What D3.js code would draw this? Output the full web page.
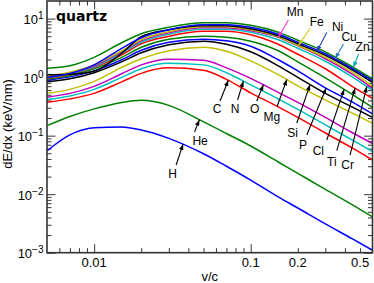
<!DOCTYPE html>
<html lang="en">
<head>
<meta charset="UTF-8">
<title>quartz - dE/dx vs v/c</title>
<script src="https://d3js.org/d3.v7.min.js"></script>
<style>
    body { margin: 0; background: #fff; }
    svg { display: block; font-family: "Liberation Sans", Arial, sans-serif; }
    .tick line { stroke: #333; stroke-width: 1; }
    .domain { display: none; }
    .curve { fill: none; stroke-width: 1.5; }
    .lbl { font-size: 12px; fill: #000; }
</style>
</head>
<body>
<svg id="chart" width="374" height="283"></svg>
<script>
// v/c values shared by every ion
const velocity = [0.005, 0.007, 0.01, 0.015, 0.02, 0.03, 0.05, 0.07, 0.1, 0.15, 0.2, 0.3, 0.45, 0.6];

// dE/dx (keV/nm)
const H  = [0.055, 0.103, 0.136, 0.141, 0.125, 0.090, 0.049, 0.030, 0.0174, 0.0090, 0.0058, 0.0031, 0.0017, 0.0011];
const He = [0.148, 0.213, 0.287, 0.370, 0.401, 0.329, 0.172, 0.109, 0.0666, 0.0355, 0.0227, 0.0121, 0.0065, 0.0041];
const C  = [0.373, 0.425, 0.528, 0.831, 1.16, 1.44, 1.31, 0.917, 0.538, 0.310, 0.205, 0.111, 0.0604, 0.0384];
const N  = [0.414, 0.478, 0.618, 0.992, 1.39, 1.72, 1.62, 1.19, 0.738, 0.425, 0.281, 0.153, 0.0828, 0.0536];
const O  = [0.455, 0.528, 0.696, 1.14, 1.62, 2.02, 1.94, 1.44, 0.954, 0.549, 0.370, 0.205, 0.111, 0.0735];
const Mg = [0.528, 0.618, 0.847, 1.47, 2.06, 2.82, 3.24, 2.77, 1.90, 1.10, 0.710, 0.409, 0.240, 0.162];
const Si = [0.831, 0.935, 1.19, 1.83, 2.61, 3.57, 4.10, 3.64, 2.71, 1.56, 0.992, 0.528, 0.304, 0.205];
const P  = [0.882, 1.01, 1.28, 1.98, 2.88, 3.94, 4.44, 4.18, 3.37, 1.98, 1.28, 0.656, 0.370, 0.235];
const Cl = [0.917, 1.07, 1.39, 2.18, 3.24, 4.44, 5.00, 4.80, 4.10, 2.82, 1.83, 0.973, 0.498, 0.304];
const Ti = [0.954, 1.12, 1.47, 2.41, 3.72, 5.00, 6.08, 6.08, 5.30, 3.64, 2.46, 1.39, 0.682, 0.434];
const Cr = [0.973, 1.14, 1.50, 2.56, 3.94, 5.41, 6.59, 6.59, 5.85, 4.35, 3.11, 1.87, 0.992, 0.594];
const Mn = [0.992, 1.16, 1.56, 2.71, 4.18, 5.74, 6.99, 6.99, 6.21, 4.80, 3.44, 2.06, 1.10, 0.643];
const Fe = [1.03, 1.21, 1.62, 2.82, 4.35, 5.97, 7.27, 7.27, 6.46, 4.90, 3.50, 2.18, 1.19, 0.696];
const Ni = [1.10, 1.12, 1.26, 2.56, 4.90, 6.46, 7.56, 7.56, 6.71, 5.10, 3.72, 2.36, 1.31, 0.815];
const Cu = [0.992, 1.16, 1.62, 3.11, 4.71, 6.46, 7.86, 7.86, 7.12, 5.41, 3.94, 2.51, 1.39, 0.875];
const Zn = [1.415, 1.562, 2.18, 3.87, 5.51, 7.12, 8.51, 8.51, 7.71, 5.85, 4.27, 2.71, 1.48, 0.935];

const ions = ["H", "He", "C", "N", "O", "Mg", "Si", "P", "Cl", "Ti", "Cr", "Mn", "Fe", "Ni", "Cu", "Zn"];
const ionSeries = [H, He, C, N, O, Mg, Si, P, Cl, Ti, Cr, Mn, Fe, Ni, Cu, Zn];
const ionColors = ["#0000ff", "#008000", "#ff0000", "#00bfbf", "#bf00bf", "#bfbf00", "#000000",
                   "#0000ff", "#008000", "#ff0000", "#00bfbf", "#bf00bf", "#bfbf00", "#000000",
                   "#0000ff", "#008000"];

// labels: text position, arrow tail (both in v/c, keV/nm) and the v/c where the arrow meets its curve
const labelV = [0.0317, 0.0475, 0.0610, 0.0795, 0.1062, 0.1364, 0.1852, 0.2162, 0.2707, 0.3298, 0.4159, 0.1922, 0.2644, 0.3591, 0.4252, 0.5188];
const labelE = [0.0221, 0.0810, 0.285, 0.285, 0.285, 0.211, 0.111, 0.0692, 0.0553, 0.0359, 0.0315, 13.1, 8.86, 7.28, 4.91, 3.31];
const tailV  = [0.0334, 0.0438, 0.0637, 0.0825, 0.1094, 0.1475, 0.197, 0.2282, 0.3063, 0.3549, 0.4315, 0.1741, 0.2395, 0.3063, 0.3912, 0.4891];
const tailE  = [0.0315, 0.1155, 0.391, 0.407, 0.391, 0.315, 0.1645, 0.1026, 0.0843, 0.0553, 0.0467, 9.47, 6.78, 5.79, 3.68, 2.485];
const tipV   = [0.037, 0.047, 0.072, 0.0898, 0.1206, 0.1701, 0.2395, 0.3031, 0.3953, 0.4645, 0.5518, 0.1503, 0.2017, 0.2644, 0.3462, 0.4531];
const arrowColors = ["#000", "#000", "#000", "#000", "#000", "#000", "#000", "#000", "#000", "#000", "#000",
                     "#ff33cc", "#c8c800", "#1f3fbf", "#2878c8", "#00b4b4"];

// axis ticks
const xMajor = [0.01, 0.1];
const xMinor = [0.006, 0.007, 0.008, 0.009, 0.02, 0.03, 0.04, 0.05, 0.06, 0.07, 0.08, 0.09, 0.2, 0.3, 0.4, 0.5];
const xLabels = [0.01, 0.1, 0.2, 0.5];
const yMajor = [1e-3, 1e-2, 1e-1, 1, 10];
const yExp = [-3, -2, -1, 0, 1];

const margin = { top: 1, right: 1.5, bottom: 30.3, left: 47 };
const width = 374 - margin.left - margin.right;
const height = 283 - margin.top - margin.bottom;

const x = d3.scaleLog().domain([0.005, 0.6]).range([0, width]);
const y = d3.scaleLog().domain([1e-3, 20]).range([height, 0]);

const yMinor = [];
yMajor.forEach(d => { for (let k = 2; k <= 9; k++) if (d * k < 19) yMinor.push(d * k); });

const svg = d3.select("#chart");
const g = svg.append("g").attr("transform", `translate(${margin.left},${margin.top})`);

svg.append("defs").append("clipPath").attr("id", "plot")
    .append("rect").attr("width", width).attr("height", height);

// ticks, all pointing into the plot
function ticks(axis, vals, len, tr) {
    g.append("g").attr("transform", tr)
        .call(axis.tickValues(vals).tickSize(-len).tickFormat(""));
}
ticks(d3.axisBottom(x), xMajor, 8.5, `translate(0,${height})`);
ticks(d3.axisBottom(x), xMinor, 4.5, `translate(0,${height})`);
ticks(d3.axisTop(x), xMajor, 8.5, "translate(0,0)");
ticks(d3.axisTop(x), xMinor, 4.5, "translate(0,0)");
ticks(d3.axisLeft(y), yMajor, 8.5, "translate(0,0)");
ticks(d3.axisLeft(y), yMinor, 4.5, "translate(0,0)");
ticks(d3.axisRight(y), yMajor, 8.5, `translate(${width},0)`);
ticks(d3.axisRight(y), yMinor, 4.5, `translate(${width},0)`);

// curves
const line = d3.line()
    .x((d, i) => x(velocity[i]))
    .y(d => y(d))
    .curve(d3.curveMonotoneX);

const paths = ionSeries.map((s, i) =>
    g.append("path")
        .attr("class", "curve")
        .attr("clip-path", "url(#plot)")
        .attr("stroke", ionColors[i])
        .attr("d", line(s))
        .node());

// frame
g.append("rect").attr("width", width).attr("height", height)
    .attr("fill", "none").attr("stroke", "#333").attr("stroke-width", 1.6);

// tick labels
g.selectAll(".xl").data(xLabels).enter().append("text")
    .attr("x", d => x(d)).attr("y", height + 14.6)
    .attr("text-anchor", "middle").attr("font-size", 13)
    .text(d => String(d));

const yl = g.selectAll(".yl").data(yMajor).enter().append("text")
    .attr("x", -3.5).attr("y", d => y(d) + 5.5)
    .attr("text-anchor", "end").attr("font-size", 13);
yl.append("tspan").text("10");
yl.append("tspan").attr("dy", -5).attr("font-size", 10)
    .text((d, i) => yExp[i] < 0 ? "\u2212" + (-yExp[i]) : String(yExp[i]));

// axis titles
svg.append("text").attr("x", margin.left + width / 2).attr("y", 281)
    .attr("text-anchor", "middle").attr("font-size", 13).text("v/c");
svg.append("text").attr("transform", "translate(12,124) rotate(-90)")
    .attr("text-anchor", "middle").attr("font-size", 13).text("dE/dx (keV/nm)");

g.append("text").attr("x", 9).attr("y", 20)
    .attr("font-family", "DejaVu Sans").attr("font-weight", "bold").attr("font-size", 14)
    .text("quartz");

// arrow heads, one per colour
const defs = svg.select("defs");
const heads = Array.from(new Set(arrowColors));
heads.forEach((c, k) => {
    defs.append("marker").attr("id", "ah" + k)
        .attr("viewBox", "0 0 10 10").attr("refX", 10).attr("refY", 5)
        .attr("markerWidth", 6).attr("markerHeight", 4.5)
        .attr("markerUnits", "userSpaceOnUse").attr("orient", "auto")
        .attr("preserveAspectRatio", "none")
        .append("path").attr("d", "M0,0 L10,5 L0,10 z").attr("fill", c);
});

// point of a curve at a given screen x
function pointAt(node, px) {
    let lo = 0, hi = node.getTotalLength();
    for (let k = 0; k < 40; k++) {
        const mid = (lo + hi) / 2;
        if (node.getPointAtLength(mid).x < px) lo = mid; else hi = mid;
    }
    return node.getPointAtLength(lo);
}

ions.forEach((name, i) => {
    const tip = pointAt(paths[i], x(tipV[i]));
    g.append("line")
        .attr("x1", x(tailV[i])).attr("y1", y(tailE[i]))
        .attr("x2", tip.x).attr("y2", tip.y)
        .attr("stroke", arrowColors[i]).attr("stroke-width", 1.1)
        .attr("marker-end", `url(#ah${heads.indexOf(arrowColors[i])})`);
    g.append("text").attr("class", "lbl")
        .attr("x", x(labelV[i])).attr("y", y(labelE[i]))
        .attr("text-anchor", "middle").attr("dominant-baseline", "central")
        .text(name);
});
</script>
</body>
</html>
